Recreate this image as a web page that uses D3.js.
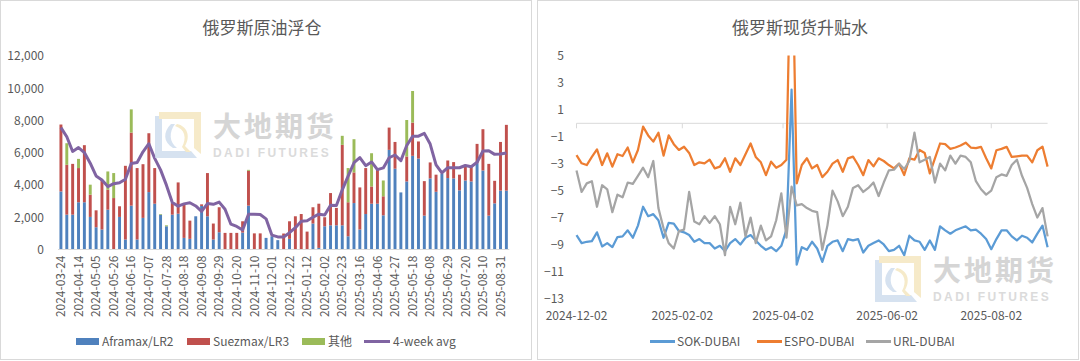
<!DOCTYPE html>
<html><head><meta charset="utf-8">
<script src="https://cdn.jsdelivr.net/npm/d3@7"></script>
<style>
body{margin:0;background:#fff;}
svg{display:block;}
text{font-family:"Noto Sans CJK SC","Noto Sans",sans-serif;fill:#595959;}
</style></head><body>
<svg id="c" width="1080" height="361"></svg>
<script>
// ---------- LEFT CHART DATA ----------
const weeks = ["2024-03-24","2024-03-31","2024-04-07","2024-04-14","2024-04-21","2024-04-28","2024-05-05","2024-05-12","2024-05-19","2024-05-26",
"2024-06-02","2024-06-09","2024-06-16","2024-06-23","2024-06-30","2024-07-07","2024-07-14","2024-07-21","2024-07-28","2024-08-04",
"2024-08-11","2024-08-18","2024-08-25","2024-09-01","2024-09-08","2024-09-15","2024-09-22","2024-09-29","2024-10-06","2024-10-13",
"2024-10-20","2024-10-27","2024-11-03","2024-11-10","2024-11-17","2024-11-24","2024-12-01","2024-12-08","2024-12-15","2024-12-22",
"2024-12-29","2025-01-05","2025-01-12","2025-01-19","2025-01-26","2025-02-02","2025-02-09","2025-02-16","2025-02-23","2025-03-02",
"2025-03-09","2025-03-16","2025-03-23","2025-03-30","2025-04-06","2025-04-13","2025-04-20","2025-04-27","2025-05-04","2025-05-11",
"2025-05-18","2025-05-25","2025-06-01","2025-06-08","2025-06-15","2025-06-22","2025-06-29","2025-07-06","2025-07-13","2025-07-20",
"2025-07-27","2025-08-03","2025-08-10","2025-08-17","2025-08-24","2025-08-31","2025-09-07"];
const aframax = [3600,2160,2160,2930,2930,2020,1380,1240,2470,0,
 2020,620,2720,620,1960,3560,2840,2160,1440,2160,
 2220,720,660,2060,2700,2060,620,1070,0,0,
 0,1050,2720,0,0,720,820,580,0,660,
 0,0,0,1610,100,1440,1500,1500,1500,820,
 2880,1240,2200,2840,2840,2120,6180,5010,3540,4220,
 5810,5640,2100,4410,3580,4700,4430,4410,3670,4280,
 4220,5360,4900,2100,2860,3650,3650];
const suezmax = [4150,3090,3150,2120,3540,1380,1050,3070,1240,3190,
 660,4570,4530,4430,3330,3650,2210,0,0,720,
 1940,2060,1130,0,100,2680,990,1550,1030,1030,
 1030,700,2160,1000,1000,0,0,0,990,1090,
 2060,2200,1110,1010,2740,560,2000,1080,4990,2110,
 1900,2610,2850,1070,2100,1180,1380,1660,0,1550,
 2060,1060,2140,990,1060,0,1090,1010,970,970,
 970,1190,2560,3210,1400,3020,4080];
const others = [0,1340,0,570,0,620,0,0,1130,1550,
 0,0,1440,0,0,0,0,40,60,0,
 0,0,0,0,0,0,0,0,0,0,
 0,0,60,0,0,0,0,0,0,0,
 0,0,0,0,0,0,0,0,560,2120,
 2060,0,0,2060,0,980,0,0,0,2260,
 1960,0,0,0,0,0,0,0,0,0,
 0,0,0,0,0,0,0];
const avg4w = [7560,6990,6080,6320,6010,5350,4560,4310,3900,4080,
 4140,4360,5330,5400,6060,6560,5650,4940,3990,2910,
 2690,2830,2900,2700,2360,2850,2800,2940,2500,1570,
 1430,1210,2190,2180,2170,1900,890,780,780,1040,
 1350,1750,1780,2000,2190,2140,2740,2730,3700,4545,
 5380,5700,5200,5430,4950,5060,5690,5860,5510,6450,
 7020,7030,7200,6540,5250,4750,5070,5070,5070,5210,
 5130,5410,6110,6130,5900,5920,5990];
const leftYTicks = [0,2000,4000,6000,8000,10000,12000];
const leftSeries = ["Aframax/LR2","Suezmax/LR3","其他","4-week avg"];

// ---------- RIGHT CHART DATA ----------
const days = ["2024-12-02","2024-12-05","2024-12-08","2024-12-11","2024-12-14","2024-12-17","2024-12-20","2024-12-23","2024-12-26","2024-12-29",
"2025-01-01","2025-01-04","2025-01-07","2025-01-10","2025-01-13","2025-01-16","2025-01-19","2025-01-22","2025-01-25","2025-01-28",
"2025-01-31","2025-02-03","2025-02-06","2025-02-09","2025-02-12","2025-02-15","2025-02-18","2025-02-21","2025-02-24","2025-02-27",
"2025-03-02","2025-03-05","2025-03-08","2025-03-11","2025-03-14","2025-03-17","2025-03-20","2025-03-23","2025-03-26","2025-03-29",
"2025-04-01","2025-04-04","2025-04-07","2025-04-10","2025-04-13","2025-04-16","2025-04-19","2025-04-22","2025-04-25","2025-04-28",
"2025-05-01","2025-05-04","2025-05-07","2025-05-10","2025-05-13","2025-05-16","2025-05-19","2025-05-22","2025-05-25","2025-05-28",
"2025-05-31","2025-06-03","2025-06-06","2025-06-09","2025-06-12","2025-06-15","2025-06-18","2025-06-21","2025-06-24","2025-06-27",
"2025-06-30","2025-07-03","2025-07-06","2025-07-09","2025-07-12","2025-07-15","2025-07-18","2025-07-21","2025-07-24","2025-07-27",
"2025-07-30","2025-08-02","2025-08-05","2025-08-08","2025-08-11","2025-08-14","2025-08-17","2025-08-20","2025-08-23","2025-08-26",
"2025-08-29","2025-09-01","2025-09-04"];
const sok = [-8.3,-8.9,-8.8,-8.75,-8.1,-9.15,-8.9,-9.2,-8.45,-8.4,
 -7.95,-8.5,-7.6,-6.2,-6.9,-6.75,-7.2,-8.5,-7.4,-7.45,
 -8.0,-8.1,-8.3,-8.8,-8.6,-8.9,-8.9,-9.3,-9.1,-9.5,
 -8.9,-8.6,-9.0,-8.5,-8.3,-8.7,-9.1,-9.4,-9.2,-9.5,
 -9.1,-7.9,2.5,-10.5,-9.2,-9.4,-8.8,-9.3,-10.3,-9.1,
 -8.8,-8.7,-9.5,-8.6,-8.7,-8.6,-9.6,-9.1,-8.9,-8.7,
 -9.0,-9.5,-9.4,-9.1,-9.8,-8.35,-8.7,-8.8,-9.4,-8.7,
 -9.4,-7.65,-7.95,-8.2,-7.95,-7.8,-7.65,-7.95,-7.9,-8.2,
 -8.6,-9.35,-8.6,-7.95,-7.95,-8.4,-8.7,-8.35,-8.5,-8.85,
 -8.2,-7.6,-9.2];
const espo = [-2.36,-2.97,-3.1,-2.5,-1.94,-3.1,-2.23,-3.22,-2.3,-2.43,
 -1.8,-2.9,-1.98,-0.25,-0.9,-1.36,-0.7,-2.4,-0.9,-1.55,
 -1.98,-1.74,-2.2,-3.1,-2.9,-2.98,-2.7,-3.35,-3.22,-2.6,
 -3.6,-2.6,-3.1,-2.3,-1.5,-2.5,-2.9,-3.85,-2.85,-3.3,
 -3.1,-2.7,16,-4.46,-3.1,-2.6,-3.35,-3.1,-4.0,-3.6,
 -3.0,-2.73,-3.6,-2.6,-2.48,-3.1,-3.85,-2.73,-3.2,-2.6,
 -2.8,-3.1,-3.35,-3.0,-3.84,-2.6,-2.7,-1.98,-2.2,-3.72,
 -2.6,-1.5,-1.55,-1.9,-1.8,-1.65,-1.44,-1.8,-1.85,-1.75,
 -2.6,-3.35,-2.0,-1.9,-1.75,-2.5,-2.45,-2.4,-2.4,-2.9,
 -2.0,-1.73,-3.22];
const url = [-3.5,-5.1,-4.46,-4.3,-6.2,-4.6,-4.9,-6.6,-5.3,-5.5,
 -4.4,-4.5,-3.9,-3.3,-4.0,-2.8,-6.3,-7.8,-8.9,-9.3,
 -8.0,-7.9,-5.1,-7.3,-7.5,-6.9,-7.4,-6.9,-7.5,-9.8,
 -6.2,-7.5,-5.9,-8.4,-7.0,-8.9,-7.6,-8.7,-8.4,-7.2,
 -5.2,-8.5,-4.7,-6.1,-6.0,-6.3,-6.5,-6.6,-9.4,-7.6,
 -5.0,-5.8,-6.9,-6.2,-4.8,-4.6,-5.1,-4.8,-4.4,-5.4,
 -4.4,-3.5,-3.45,-3.0,-3.4,-2.8,-0.7,-2.9,-2.7,-2.5,
 -4.4,-3.0,-3.5,-2.4,-3.0,-2.4,-2.5,-2.9,-4.3,-4.9,
 -5.3,-5.0,-4.0,-3.8,-3.9,-3.1,-2.7,-3.9,-4.8,-6.0,
 -7.0,-6.3,-8.4];
const rightYTicks = [5,3,1,-1,-3,-5,-7,-9,-11,-13];
const rightXTicks = ["2024-12-02","2025-02-02","2025-04-02","2025-06-02","2025-08-02"];
const rightSeries = ["SOK-DUBAI","ESPO-DUBAI","URL-DUBAI"];

// ---------- DRAW ----------
const svg = d3.select("#c");
const txt = "#595959";

// panels
svg.append("rect").attr("x",0.5).attr("y",0.5).attr("width",531).attr("height",359)
  .attr("fill","#fff").attr("stroke","#d9d9d9");
svg.append("rect").attr("x",537.5).attr("y",0.5).attr("width",541).attr("height",359)
  .attr("fill","#fff").attr("stroke","#d9d9d9");

// ===== LEFT =====
const L = svg.append("g");
L.append("text").attr("x",262).attr("y",34).attr("text-anchor","middle")
  .style("font-size","17px").text("俄罗斯原油浮仓");

const x = d3.scaleBand().domain(weeks).range([58,509.3]).paddingInner(0.5).paddingOuter(0.25);
const y = d3.scaleLinear().domain([0,12000]).range([249.5,56]);

const rows = weeks.map((w,i)=>({w, a:aframax[i], s:suezmax[i], o:others[i]}));
const stack = d3.stack().keys(["a","s","o"])(rows);
const barColors = {a:"#4f81bd", s:"#c0504d", o:"#9bbb59"};
L.append("g").selectAll("g").data(stack).join("g")
  .attr("fill",d=>barColors[d.key])
  .selectAll("rect").data(d=>d).join("rect")
  .attr("x",d=>x(d.data.w)).attr("width",x.bandwidth())
  .attr("y",d=>y(d[1])).attr("height",d=>Math.max(0,y(d[0])-y(d[1])));

// y axis
const ya = L.append("g").attr("transform","translate(48,0)")
  .call(d3.axisLeft(y).tickValues(leftYTicks).tickFormat(d3.format(",")).tickSize(0).tickPadding(4));
ya.select(".domain").remove();
ya.selectAll("text").style("font-size","12px").style("font-family","'Noto Sans CJK SC',sans-serif").attr("fill",txt);

// x axis baseline + labels
L.append("line").attr("x1",58).attr("x2",509.3).attr("y1",249.5).attr("y2",249.5).attr("stroke","#d9d9d9");
const xa = L.append("g").attr("transform","translate(0,249.5)")
  .call(d3.axisBottom(x).tickValues(weeks.filter((d,i)=>i%3===0)).tickSize(0));
xa.select(".domain").remove();
xa.selectAll("text").attr("transform","rotate(-90)").attr("x",-6).attr("y",0).attr("dy","0.35em")
  .style("text-anchor","end").style("font-size","12px").style("font-family","'Noto Sans CJK SC',sans-serif").attr("fill",txt);

// 4-week avg line
const line4 = d3.line().x((d,i)=>x(weeks[i])+x.bandwidth()/2).y(d=>y(d)).curve(d3.curveLinear);
L.append("path").datum(avg4w).attr("d",line4).attr("fill","none")
  .attr("stroke","#8064a2").attr("stroke-width",3).attr("stroke-linejoin","round");

// legend left
const legL = [{t:leftSeries[0],c:"#4f81bd",x:76,type:"r"},{t:leftSeries[1],c:"#c0504d",x:187,type:"r"},
              {t:leftSeries[2],c:"#9bbb59",x:302,type:"r"},{t:leftSeries[3],c:"#8064a2",x:364,type:"l"}];
legL.forEach(d=>{
  if(d.type==="r") L.append("rect").attr("x",d.x).attr("y",338).attr("width",23).attr("height",7).attr("fill",d.c);
  else L.append("line").attr("x1",d.x).attr("x2",d.x+26).attr("y1",341.5).attr("y2",341.5).attr("stroke",d.c).attr("stroke-width",3);
  L.append("text").attr("x",d.x+(d.type==="r"?26:29)).attr("y",346).style("font-size","12px").text(d.t);
});

// ===== RIGHT =====
const R = svg.append("g");
R.append("text").attr("x",800).attr("y",34).attr("text-anchor","middle")
  .style("font-size","17px").text("俄罗斯现货升贴水");

const parse = d3.utcParse("%Y-%m-%d");
const xr = d3.scaleUtc().domain([parse("2024-12-02"),parse("2025-09-04")]).range([576.5,1047.6]);
const yr = d3.scaleLinear().domain([-13,5]).range([298.3,56]);

// y labels
const yra = R.append("g").attr("transform","translate(568,0)")
  .call(d3.axisLeft(yr).tickValues(rightYTicks).tickFormat(d3.format("d")).tickSize(0).tickPadding(4));
yra.select(".domain").remove();
yra.selectAll("text").style("font-size","12px").style("font-family","'Noto Sans CJK SC',sans-serif").attr("fill",txt);

// zero axis with ticks
const y0 = yr(0);
R.append("line").attr("x1",576.5).attr("x2",1047.6).attr("y1",y0).attr("y2",y0).attr("stroke","#d9d9d9");
rightXTicks.forEach(t=>{
  const xx = xr(parse(t));
  R.append("line").attr("x1",xx).attr("x2",xx).attr("y1",y0).attr("y2",y0+5).attr("stroke","#d9d9d9");
  R.append("text").attr("x",xx).attr("y",320).attr("text-anchor","middle").style("font-size","12px").text(t);
});

// clip
svg.append("defs").append("clipPath").attr("id","clipR").append("rect")
  .attr("x",570).attr("y",55.5).attr("width",490).attr("height",246);

const lr = d3.line().x((d,i)=>xr(parse(days[i]))).y(d=>yr(d)).curve(d3.curveLinear);
const rCols = ["#5b9bd5","#ed7d31","#a5a5a5"];
const gL = R.append("g").attr("clip-path","url(#clipR)");
[sok,espo,url].forEach((s,k)=>{
  gL.append("path").datum(s).attr("d",lr).attr("fill","none").attr("stroke",rCols[k])
    .attr("stroke-width",2.25).attr("stroke-linejoin","round");
});

// legend right
const legR = [{x:650},{x:757},{x:866}];
legR.forEach((d,k)=>{
  R.append("line").attr("x1",d.x).attr("x2",d.x+25).attr("y1",341.5).attr("y2",341.5).attr("stroke",rCols[k]).attr("stroke-width",3);
  R.append("text").attr("x",d.x+27).attr("y",346).style("font-size","12px").text(rightSeries[k]);
});

// ===== WATERMARKS =====
function watermark(px,py){
  const g = svg.append("g").attr("transform",`translate(${px},${py})`).attr("opacity",0.75);
  // logo
  g.append("path").attr("d","M0,4 L0,46 L42,46 L36,39 L7,39 L7,4 Z").attr("fill","#c9d9ec");
  g.append("path").attr("d","M4,0 L46,0 L46,42 L39,36 L39,7 L4,7 Z").attr("fill","#f3e4b7");
  g.append("path").attr("d","M16,12 C8,20 8,30 18,36 L22,36 C14,30 14,20 20,12 Z").attr("fill","#c9d9ec");
  g.append("path").attr("d","M22,12 C32,14 36,24 30,34 L36,40 L31,40 L27,35 C32,26 30,17 20,14 Z").attr("fill","#f3e4b7");
  g.append("text").attr("x",58).attr("y",25).style("font-size","28px").style("font-weight","bold")
    .style("letter-spacing","3px").style("fill","#c8c8c8").text("大地期货");
  g.append("text").attr("x",58).attr("y",44.5).style("font-size","12px").style("font-weight","bold")
    .style("font-family","'Liberation Sans',Arial,sans-serif")
    .style("letter-spacing","2.4px").style("fill","#cfcfcf").text("DADI FUTURES");
}
watermark(155,112);
watermark(875,256);
</script>
</body></html>
